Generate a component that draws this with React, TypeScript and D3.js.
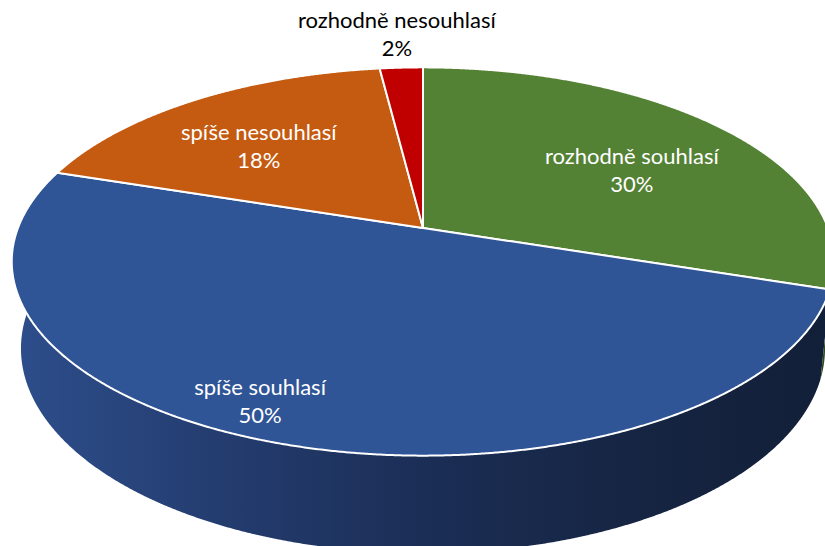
import React from "react";
import * as d3 from "d3";

// data
const categories = ["rozhodně souhlasí", "spíše souhlasí", "spíše nesouhlasí", "rozhodně nesouhlasí"];
const values = [30, 50, 18, 2];
const percentLabels = ["30%", "50%", "18%", "2%"];

const topColors = ["#548235", "#2F5597", "#C55A11", "#C00000"];
const sideColors = ["#2f4a1d", "url(#blueSide)", "#6e320a", "#6b0000"];
const labelColors = ["#fff", "#fff", "#fff", "#000"];

// where Excel put the labels (radius in pie units, angle shift in degrees)
const labelRadius = [0.63, 0.87, 0.64, 1.25];
const labelShift = [5.7, 5.5, -3.6, 0];

const W = 825;
const H = 546;
const CX = 423;
const CY = 228;
const F = 2078;
const DIST = 5.13;
const TILT = Math.asin(0.465);
const THICK = 0.245;

// perspective projection of a point on the (tilted) pie disc
function project(theta: number, r: number, h: number): [number, number] {
  const x = r * Math.sin(theta);
  const z = -r * Math.cos(theta);
  const s = Math.sin(TILT);
  const c = Math.cos(TILT);
  const depth = DIST - z * c + h * s;
  const sy = z * s + h * c;
  return [CX + (F * x) / depth, CY + (F * sy) / depth];
}

function arcPoints(a0: number, a1: number, h: number) {
  const n = Math.max(2, Math.ceil((a1 - a0) / 0.004));
  return d3.range(n + 1).map((i) => project(a0 + ((a1 - a0) * i) / n, 1, h));
}

const App = () => {
  const arcs = d3
    .pie<number>()
    .sort(null)
    .value((d) => d)(values);

  const closed = d3.line().curve(d3.curveLinearClosed);

  const vis0 = Math.PI * 0.4;
  const vis1 = Math.PI * 1.6;

  return (
    <svg
      width={W}
      height={H}
      style={{ position: "absolute", left: 0, top: 0, background: "#fff" }}
      fontFamily="Lato, sans-serif"
    >
      <defs>
        <linearGradient id="blueSide" gradientUnits="userSpaceOnUse" x1={10} y1={0} x2={830} y2={0}>
          <stop offset="0" stopColor="#2d4e8c" />
          <stop offset="0.25" stopColor="#243d70" />
          <stop offset="0.5" stopColor="#1b2e56" />
          <stop offset="0.75" stopColor="#162543" />
          <stop offset="1" stopColor="#121f38" />
        </linearGradient>
      </defs>

      {arcs.map((a, i) => {
        const s0 = Math.max(a.startAngle, vis0);
        const s1 = Math.min(a.endAngle, vis1);
        if (s1 <= s0) return null;
        const pts = arcPoints(s0, s1, 0).concat(arcPoints(s0, s1, THICK).reverse());
        return <path key={"side" + i} d={closed(pts) || ""} fill={sideColors[i]} />;
      })}

      {arcs.map((a, i) => {
        const pts = [project(0, 0, 0), ...arcPoints(a.startAngle, a.endAngle, 0)];
        return (
          <path
            key={"top" + i}
            d={closed(pts) || ""}
            fill={topColors[i]}
            stroke="#fff"
            strokeWidth={2}
            strokeLinejoin="round"
          />
        );
      })}

      {arcs.map((a, i) => {
        const mid = (a.startAngle + a.endAngle) / 2 + (labelShift[i] * Math.PI) / 180;
        const [x, y] = project(mid, labelRadius[i], 0);
        return (
          <text key={"lab" + i} x={x} textAnchor="middle" fontSize={22} fill={labelColors[i]}>
            <tspan x={x} y={y - 7}>
              {categories[i]}
            </tspan>
            <tspan x={x} y={y + 21}>
              {percentLabels[i]}
            </tspan>
          </text>
        );
      })}
    </svg>
  );
};

export default App;
